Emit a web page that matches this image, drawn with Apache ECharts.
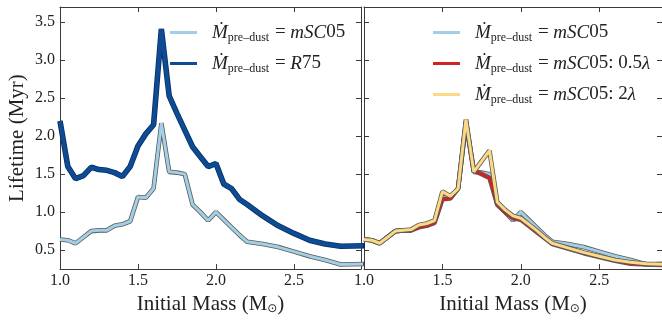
<!DOCTYPE html>
<html>
<head>
<meta charset="utf-8">
<script src="https://cdn.jsdelivr.net/npm/echarts@6/dist/echarts.min.js"></script>
<style>
  html, body { margin: 0; padding: 0; background: #fff; }
  #chart { width: 662px; height: 320px; }
</style>
</head>
<body>
<div id="chart"></div>
<script>
// initial masses (Msun)
const mass = [1.0, 1.05, 1.1, 1.15, 1.2, 1.25, 1.3, 1.35, 1.4, 1.45, 1.5, 1.55, 1.6, 1.65, 1.7, 1.75,
  1.8, 1.85, 1.9, 1.95, 2.0, 2.05, 2.1, 2.15, 2.2, 2.3, 2.4, 2.5, 2.6, 2.7, 2.8, 3.0];
// lifetimes (Myr)
const mSC05 = [0.64, 0.63, 0.59, 0.67, 0.75, 0.76, 0.76, 0.82, 0.84, 0.88, 1.20, 1.19, 1.31, 2.17, 1.53, 1.52,
  1.50, 1.10, 1.00, 0.89, 1.00, 0.90, 0.80, 0.70, 0.61, 0.58, 0.54, 0.48, 0.42, 0.37, 0.31, 0.32];
const R75 = [2.20, 1.60, 1.44, 1.48, 1.59, 1.56, 1.55, 1.52, 1.47, 1.60, 1.87, 2.03, 2.15, 3.41, 2.53, 2.30,
  2.08, 1.86, 1.73, 1.60, 1.64, 1.37, 1.31, 1.17, 1.10, 0.95, 0.82, 0.72, 0.63, 0.58, 0.55, 0.56];
const mSC05_half = [0.64, 0.63, 0.59, 0.67, 0.75, 0.76, 0.76, 0.80, 0.82, 0.86, 1.17, 1.18, 1.31, 2.20, 1.55, 1.50,
  1.45, 1.10, 1.00, 0.92, 0.90, 0.82, 0.74, 0.66, 0.58, 0.52, 0.46, 0.41, 0.36, 0.32, 0.31, 0.30];
const mSC05_two = [0.64, 0.63, 0.59, 0.67, 0.75, 0.76, 0.77, 0.83, 0.85, 0.89, 1.27, 1.21, 1.31, 2.22, 1.53, 1.67,
  1.81, 1.13, 1.03, 0.95, 0.92, 0.84, 0.76, 0.67, 0.59, 0.53, 0.47, 0.42, 0.37, 0.34, 0.32, 0.31];

const yTicks = [0.5, 1.0, 1.5, 2.0, 2.5, 3.0, 3.5];
const xTicks = [1.0, 1.5, 2.0, 2.5];

const serif = 'Liberation Serif';
const frame = '#3a3a3a';
const outline = '#5a5a5a';

function pairs(ys) {
  return mass.map((m, i) => [m, ys[i]]);
}

function xAxes(g, max) {
  const bottom = {
    gridIndex: g, type: 'value', min: 1, max: max, position: 'bottom',
    axisLine: { show: true, lineStyle: { color: frame, width: 1 } },
    axisTick: { inside: true, length: 5, customValues: xTicks, lineStyle: { color: frame } },
    axisLabel: {
      customValues: xTicks, formatter: v => v.toFixed(1), margin: 4,
      fontFamily: serif, fontSize: 16, color: '#222'
    },
    splitLine: { show: false },
    name: '{n|Initial Mass (M}{o|⊙}{n|)}', nameLocation: 'middle', nameGap: 22,
    nameTextStyle: {
      rich: {
        n: { fontFamily: serif, fontSize: 21, color: '#222' },
        o: { fontFamily: 'DejaVu Sans', fontSize: 12, color: '#222', padding: [8, 0, 0, 0] }
      }
    }
  };
  const top = {
    gridIndex: g, type: 'value', min: 1, max: max, position: 'top',
    axisLine: { show: true, lineStyle: { color: frame, width: 1 } },
    axisTick: { inside: true, length: 5, customValues: xTicks, lineStyle: { color: frame } },
    axisLabel: { show: false }, splitLine: { show: false }
  };
  return [bottom, top];
}

function yAxes(g, labels) {
  const left = {
    gridIndex: g, type: 'value', min: 0.25, max: 3.7, position: 'left',
    axisLine: { show: true, lineStyle: { color: frame, width: 1 } },
    axisTick: { inside: true, length: 5, customValues: yTicks, lineStyle: { color: frame } },
    axisLabel: {
      show: labels, customValues: yTicks, formatter: v => v.toFixed(1), margin: 5,
      fontFamily: serif, fontSize: 16, color: '#222'
    },
    splitLine: { show: false }
  };
  if (labels) {
    left.name = 'Lifetime (Myr)';
    left.nameLocation = 'middle';
    left.nameGap = 32;
    left.nameTextStyle = { fontFamily: serif, fontSize: 21, color: '#222' };
  }
  const right = {
    gridIndex: g, type: 'value', min: 0.25, max: 3.7, position: 'right',
    axisLine: { show: true, lineStyle: { color: frame, width: 1 } },
    axisTick: { inside: true, length: 5, customValues: yTicks, lineStyle: { color: frame } },
    axisLabel: { show: false }, splitLine: { show: false }
  };
  return [left, right];
}

// xAxis indices: 0 bottom-left, 1 top-left, 2 bottom-right, 3 top-right
// yAxis indices: 0 left-left, 1 right-left, 2 left-right, 3 right-right
function line(name, ys, ax, color, width, z, edge) {
  const out = [];
  if (edge) {
    out.push({
      name: name + '_o', type: 'line', xAxisIndex: ax, yAxisIndex: ax,
      data: pairs(ys), showSymbol: false, silent: true, z: z,
      lineStyle: { color: edge, width: width + 1.6 }
    });
  }
  out.push({
    name: name, type: 'line', xAxisIndex: ax, yAxisIndex: ax,
    data: pairs(ys), showSymbol: false, z: z + 1,
    itemStyle: { color: color },
    lineStyle: { color: color, width: width }
  });
  return out;
}

const head = '{mi|Ṁ}{sub|pre–dust}{n| = }';
const legendText = {
  L1: head + '{mi|mSC}{n|05}',
  L2: head + '{mi|R}{n|75}',
  R1: head + '{mi|mSC}{n|05}',
  R2: head + '{mi|mSC}{n|05: 0.5}{mi|λ}',
  R3: head + '{mi|mSC}{n|05: 2}{mi|λ}'
};
const legendRich = {
  mi: { fontFamily: serif, fontStyle: 'italic', fontSize: 19, color: '#222' },
  n: { fontFamily: serif, fontSize: 19, color: '#222' },
  sub: { fontFamily: serif, fontSize: 12, color: '#222', padding: [10, 1, 0, 0] }
};

function legend(names, left) {
  return {
    data: names, left: left, top: 18, orient: 'vertical',
    icon: 'rect', itemWidth: 27, itemHeight: 3, itemGap: 10.5,
    selectedMode: false,
    formatter: n => legendText[n],
    textStyle: { padding: [0, 0, 0, 10], rich: legendRich }
  };
}

const chart = echarts.init(document.getElementById('chart'), null, { renderer: 'canvas' });

chart.setOption({
  animation: false,
  backgroundColor: '#fff',
  grid: [
    { left: 60, top: 7, width: 301, height: 268 },
    { left: 364, top: 7, width: 300, height: 268 }
  ],
  xAxis: [...xAxes(0, 2.93), ...xAxes(1, 2.90)],
  yAxis: [...yAxes(0, true), ...yAxes(1, false)],
  legend: [legend(['L1', 'L2'], 165), legend(['R1', 'R2', 'R3'], 428)],
  series: [
    ...line('L1', mSC05, 0, '#a3cfe6', 3, 2, outline),
    ...line('L2', R75, 0, '#0d4b94', 4, 4, '#062f63'),
    ...line('R1', mSC05, 2, '#a3cfe6', 3, 2, outline),
    ...line('R2', mSC05_half, 2, '#d42222', 3, 4, outline),
    ...line('R3', mSC05_two, 2, '#fcd985', 3, 6, outline)
  ]
});
</script>
</body>
</html>
